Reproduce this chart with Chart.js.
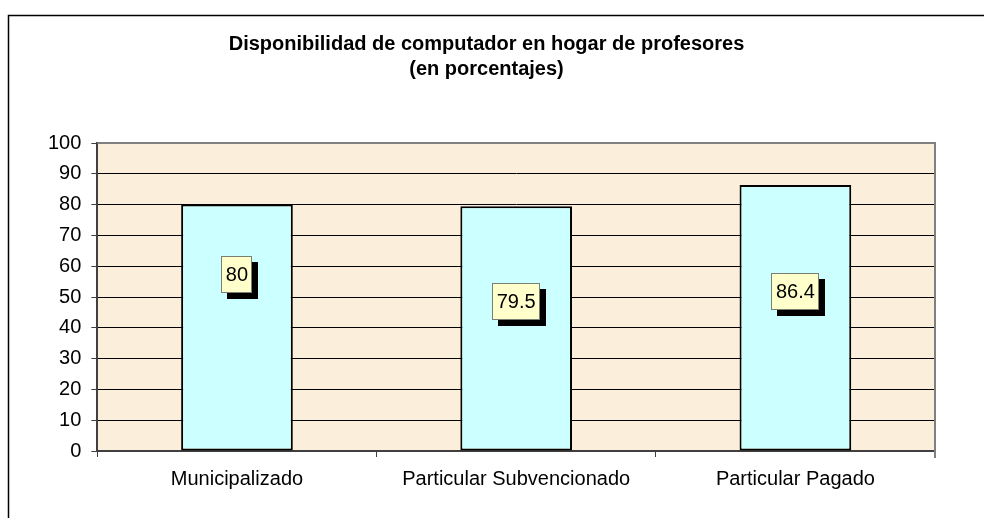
<!DOCTYPE html>
<html>
<head>
<meta charset="utf-8">
<script src="https://cdn.jsdelivr.net/npm/chart.js@4"></script>
<style>
  html, body { margin: 0; padding: 0; background: #ffffff; }
  #wrap { width: 984px; height: 518px; position: relative; }
</style>
</head>
<body>
<div id="wrap"><canvas id="c" width="984" height="518"></canvas></div>
<script>
const categories = ['Municipalizado', 'Particular Subvencionado', 'Particular Pagado'];
const values = [80, 79.5, 86.4];
const valueLabels = ['80', '79.5', '86.4'];
const titleLines = ['Disponibilidad de computador en hogar de profesores', '(en porcentajes)'];
const yMin = 0, yMax = 100, yStep = 10;

const FONT = 'Arial, "Liberation Sans", sans-serif';

const frame = {
  id: 'frame',
  beforeDraw(chart) {
    const ctx = chart.ctx, a = chart.chartArea;
    ctx.save();
    ctx.fillStyle = '#ffffff';
    ctx.fillRect(0, 0, chart.width, chart.height);
    ctx.strokeStyle = '#000000';
    ctx.lineWidth = 1.5;
    ctx.beginPath();
    ctx.moveTo(8.5, chart.height + 5);
    ctx.lineTo(8.5, 15.5);
    ctx.lineTo(chart.width + 5, 15.5);
    ctx.stroke();
    ctx.fillStyle = '#FBEEDA';
    ctx.fillRect(a.left, a.top, a.right - a.left, a.bottom - a.top);
    ctx.restore();
  },
  afterDatasetsDraw(chart) {
    const ctx = chart.ctx, a = chart.chartArea;
    ctx.save();
    ctx.strokeStyle = '#808080';
    ctx.lineWidth = 2;
    ctx.beginPath();
    ctx.moveTo(a.left, a.top);
    ctx.lineTo(a.right, a.top);
    ctx.lineTo(a.right, a.bottom + 7);
    ctx.stroke();
    ctx.restore();
  }
};

const boxLabels = {
  id: 'boxLabels',
  afterDatasetsDraw(chart, args, opts) {
    const ctx = chart.ctx;
    const meta = chart.getDatasetMeta(0);
    ctx.save();
    ctx.font = '20px ' + FONT;
    ctx.textAlign = 'center';
    ctx.textBaseline = 'middle';
    meta.data.forEach((bar, i) => {
      const frac = opts.anchor[i];
      const cx = bar.x;
      const cy = bar.base - (bar.base - bar.y) * frac;
      const txt = valueLabels[i];
      const w = Math.round(ctx.measureText(txt).width) + 9;
      const h = 37;
      const x0 = Math.round(cx - w / 2), y0 = Math.round(cy - h / 2);
      ctx.fillStyle = '#000000';
      ctx.fillRect(x0 + 6, y0 + 6, w, h);
      ctx.fillStyle = '#FFFFCC';
      ctx.fillRect(x0, y0, w, h);
      ctx.strokeStyle = '#7a7f76';
      ctx.lineWidth = 1;
      ctx.strokeRect(x0 + 0.5, y0 + 0.5, w - 1, h - 1);
      ctx.fillStyle = '#000000';
      ctx.fillText(txt, cx, cy + 1);
    });
    ctx.restore();
  }
};

new Chart(document.getElementById('c'), {
  type: 'bar',
  data: {
    labels: categories,
    datasets: [{
      data: values,
      backgroundColor: '#CCFFFF',
      borderColor: '#000000',
      borderWidth: 2,
      borderSkipped: false,
      barPercentage: 0.4,
      categoryPercentage: 1.0
    }]
  },
  options: {
    responsive: false,
    animation: false,
    devicePixelRatio: 1,
    layout: { padding: { left: 38, right: 49, top: 0, bottom: 17 } },
    plugins: {
      legend: { display: false },
      tooltip: { enabled: false },
      title: {
        display: true,
        text: titleLines,
        color: '#000000',
        font: { family: FONT, size: 20, weight: 'bold', lineHeight: 1.25 },
        padding: { top: 32, bottom: 61 }
      },
      boxLabels: { anchor: [0.717, 0.61, 0.60] }
    },
    scales: {
      x: {
        grid: { display: true, drawOnChartArea: false, drawTicks: true, tickLength: 6, color: '#404040', offset: true, lineWidth: 1 },
        border: { display: true, color: '#404040', width: 2 },
        ticks: { color: '#000000', font: { family: FONT, size: 20 }, padding: 10, maxRotation: 0, autoSkip: false }
      },
      y: {
        min: yMin, max: yMax,
        grid: {
          color: (c) => c.tick && c.tick.value === yMax ? 'rgba(0,0,0,0)' : '#000000',
          tickColor: '#404040',
          lineWidth: 1,
          tickLength: 6,
          drawTicks: true
        },
        border: { display: true, color: '#404040', width: 2 },
        ticks: { stepSize: yStep, color: '#000000', font: { family: FONT, size: 20 }, padding: 10 }
      }
    }
  },
  plugins: [frame, boxLabels]
});
</script>
</body>
</html>
